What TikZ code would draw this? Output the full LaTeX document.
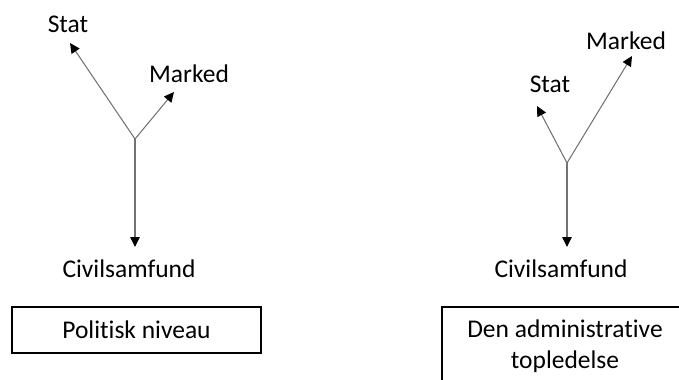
\documentclass[tikz,border=0pt]{standalone}
\usepackage{fontspec}
\setmainfont{Carlito}[Ligatures=NoCommon]
\usetikzlibrary{arrows.meta}
\begin{document}
\begin{tikzpicture}[>={Triangle[length=2mm,width=1.9mm,color=black]}]
\fontsize{14.5}{17.5}\selectfont
\useasboundingbox (0,0) rectangle (13.58,-7.6);
\clip (0,0) rectangle (13.58,-7.6);
% politisk niveau
\coordinate (c1) at (2.70,-2.78);
\coordinate (s1) at (1.40,-0.86);
\coordinate (m1) at (3.48,-1.84);
\coordinate (v1) at (2.70,-4.94);
\node[anchor=base] (stat1) at (1.36,-0.66) {Stat};
\node[anchor=base] (marked1) at (3.78,-1.66) {Marked};
\node[anchor=base] (civil1) at (2.58,-5.54) {Civilsamfund};
\node[draw, line width=0.8pt, minimum width=4.98cm, minimum height=0.92cm] (niveau1) at (2.73,-6.60) {Politisk niveau};
\path[draw,->,gray!90!black,line width=0.6pt] (c1) -- (s1);
\path[draw,->,gray!90!black,line width=0.6pt] (c1) -- (m1);
\path[draw,->,gray!90!black,line width=0.6pt] (c1) -- (v1);
% den administrative topledelse
\coordinate (c2) at (11.34,-3.26);
\coordinate (s2) at (10.74,-2.12);
\coordinate (m2) at (12.64,-1.12);
\coordinate (v2) at (11.34,-4.94);
\node[anchor=base] (stat2) at (11.00,-1.86) {Stat};
\node[anchor=base] (marked2) at (12.52,-1.00) {Marked};
\node[anchor=base] (civil2) at (11.22,-5.54) {Civilsamfund};
\node[draw, line width=0.8pt, minimum width=4.92cm, minimum height=1.56cm, align=center] (niveau2) at (11.30,-6.92) {Den administrative\\topledelse};
\path[draw,->,gray!90!black,line width=0.6pt] (c2) -- (s2);
\path[draw,->,gray!90!black,line width=0.6pt] (c2) -- (m2);
\path[draw,->,gray!90!black,line width=0.6pt] (c2) -- (v2);
\end{tikzpicture}
\end{document}
